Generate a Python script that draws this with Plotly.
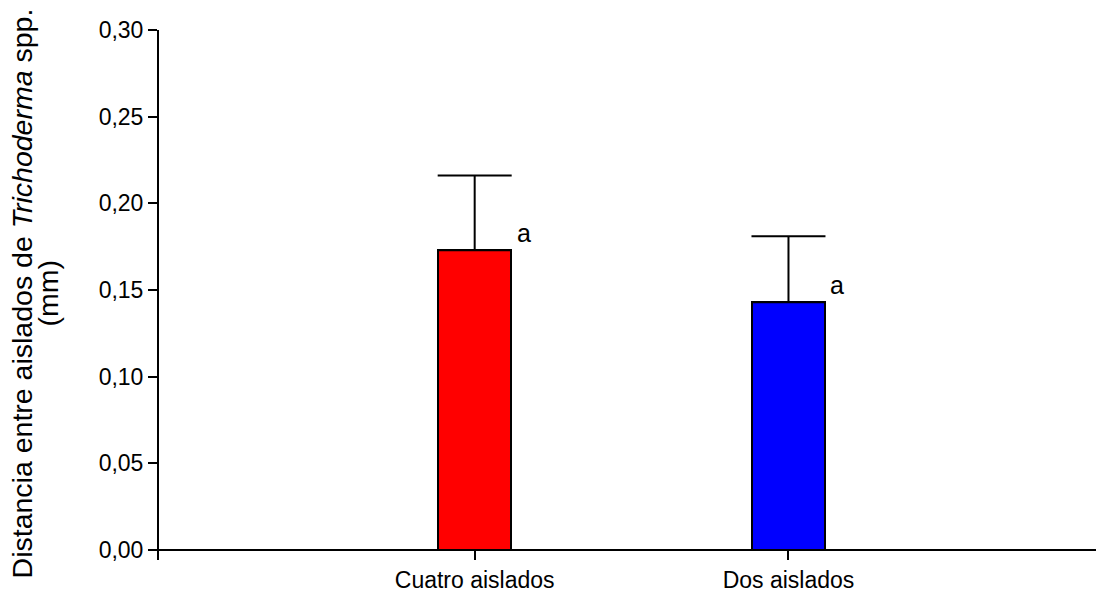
import plotly.graph_objects as go

# Mean distance between Trichoderma isolates (mm) and upper error
categories = ["Cuatro aislados", "Dos aislados"]
means = [0.173, 0.143]
errors = [0.043, 0.038]
bar_colors = ["#FF0000", "#0000FF"]
letters = ["a", "a"]

y_tickvals = [0.00, 0.05, 0.10, 0.15, 0.20, 0.25, 0.30]
y_ticktext = ["0,00", "0,05", "0,10", "0,15", "0,20", "0,25", "0,30"]

title_lines = ["Distancia entre aislados de <i>Trichoderma</i> spp.", "(mm)"]

FONT = "Liberation Sans, Arial, sans-serif"

fig = go.Figure()
fig.add_trace(go.Bar(
    x=list(range(len(categories))),
    y=means,
    width=0.232,
    marker=dict(color=bar_colors, line=dict(color="black", width=2)),
    error_y=dict(type="data", array=errors, arrayminus=[0] * len(errors),
                 symmetric=False, color="black", thickness=2, width=37),
    showlegend=False,
))

for i, (m, lab) in enumerate(zip(means, letters)):
    fig.add_annotation(x=i, y=m, text=lab, showarrow=False,
                       xshift=49, yshift=17,
                       font=dict(family=FONT, size=25, color="black"))

# Rotated y-axis title, one annotation per line for tight line spacing
for xpos, line in zip([-0.1462, -0.1185], title_lines):
    fig.add_annotation(
        xref="paper", yref="paper", x=xpos, y=0.503,
        text=line, textangle=-90, showarrow=False,
        xanchor="center", yanchor="middle",
        font=dict(family=FONT, size=28.5, color="black"),
    )

fig.update_layout(
    width=1096, height=593,
    margin=dict(l=159, r=0, t=30, b=33),
    plot_bgcolor="white", paper_bgcolor="white",
    font=dict(family=FONT, size=23, color="black"),
    bargap=0,
)
fig.update_xaxes(
    range=[-1.006, 1.98],
    tickvals=list(range(len(categories))), ticktext=categories,
    showline=False, showgrid=False, zeroline=False,
    ticks="inside", ticklen=10, tickwidth=2, tickcolor="black",
    ticklabelstandoff=4,
    tickfont=dict(family=FONT, size=23, color="black"),
)
fig.update_yaxes(
    range=[-0.00577, 0.30],
    tickvals=y_tickvals, ticktext=y_ticktext,
    showline=True, linecolor="black", linewidth=2,
    showgrid=False, zeroline=True, zerolinecolor="black", zerolinewidth=2,
    ticks="outside", ticklen=9, tickwidth=2, tickcolor="black",
    tickfont=dict(family=FONT, size=23, color="black"),
)

fig.write_html("out.html")
